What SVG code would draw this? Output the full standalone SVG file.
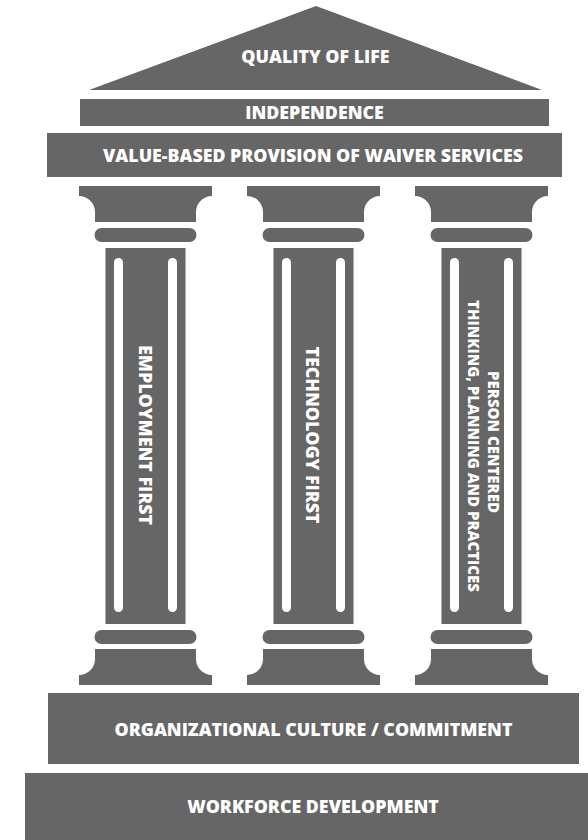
<svg xmlns="http://www.w3.org/2000/svg" width="588" height="840" viewBox="0 0 588 840">
<style>
.g{fill:#666666}
.w{fill:#ffffff}
.t{fill:#ffffff;font-family:"Open Sans","Liberation Sans",sans-serif;font-weight:800;font-size:17.8px;text-anchor:middle}
.s{font-size:15px}
</style>
<defs>
<g id="col">
<path class="g" d="M-66.5 186H66.5V196A16 16 0 0 0 50.5 212V222H-50.5V212A16 16 0 0 0 -66.5 196Z"/>
<rect class="g" x="-51" y="228" width="102" height="14" rx="7"/>
<rect class="g" x="-40" y="248" width="80" height="376"/>
<rect class="w" x="-31.5" y="258" width="9" height="354" rx="4.5"/>
<rect class="w" x="22.5" y="258" width="9" height="354" rx="4.5"/>
<rect class="g" x="-51" y="630" width="102" height="14" rx="7"/>
<path class="g" d="M-50.5 649H50.5V659A16 16 0 0 0 66.5 675V685H-66.5V675A16 16 0 0 0 -50.5 659Z"/>
</g>
</defs>
<rect width="588" height="840" fill="#ffffff"/>
<g id="roof">
<polygon class="g" points="316,6 542,90 89,90"/>
<text class="t" x="315.5" y="63">QUALITY OF LIFE</text>
</g>
<g id="independence">
<rect class="g" x="80" y="99" width="469" height="27"/>
<text class="t" x="314.5" y="119">INDEPENDENCE</text>
</g>
<g id="value">
<rect class="g" x="47" y="133" width="515" height="44"/>
<text class="t" x="313" y="162">VALUE-BASED PROVISION OF WAIVER SERVICES</text>
</g>
<g id="pillar1">
<use href="#col" transform="translate(145.5,0)"/>
<text class="t" transform="translate(139,435) rotate(90)">EMPLOYMENT FIRST</text>
</g>
<g id="pillar2">
<use href="#col" transform="translate(313.5,0)"/>
<text class="t" transform="translate(306,435) rotate(90)">TECHNOLOGY FIRST</text>
</g>
<g id="pillar3">
<use href="#col" transform="translate(481.5,0)"/>
<text class="t s" transform="translate(488,442) rotate(90)">PERSON CENTERED</text>
<text class="t s" transform="translate(468,446) rotate(90)">THINKING, PLANNING AND PRACTICES</text>
</g>
<g id="culture">
<rect class="g" x="48" y="693" width="531" height="71"/>
<text class="t" x="313.5" y="736">ORGANIZATIONAL CULTURE / COMMITMENT</text>
</g>
<g id="workforce">
<rect class="g" x="25" y="773" width="563" height="67"/>
<text class="t" x="313" y="813">WORKFORCE DEVELOPMENT</text>
</g>
<g id="connectors"/>
</svg>
